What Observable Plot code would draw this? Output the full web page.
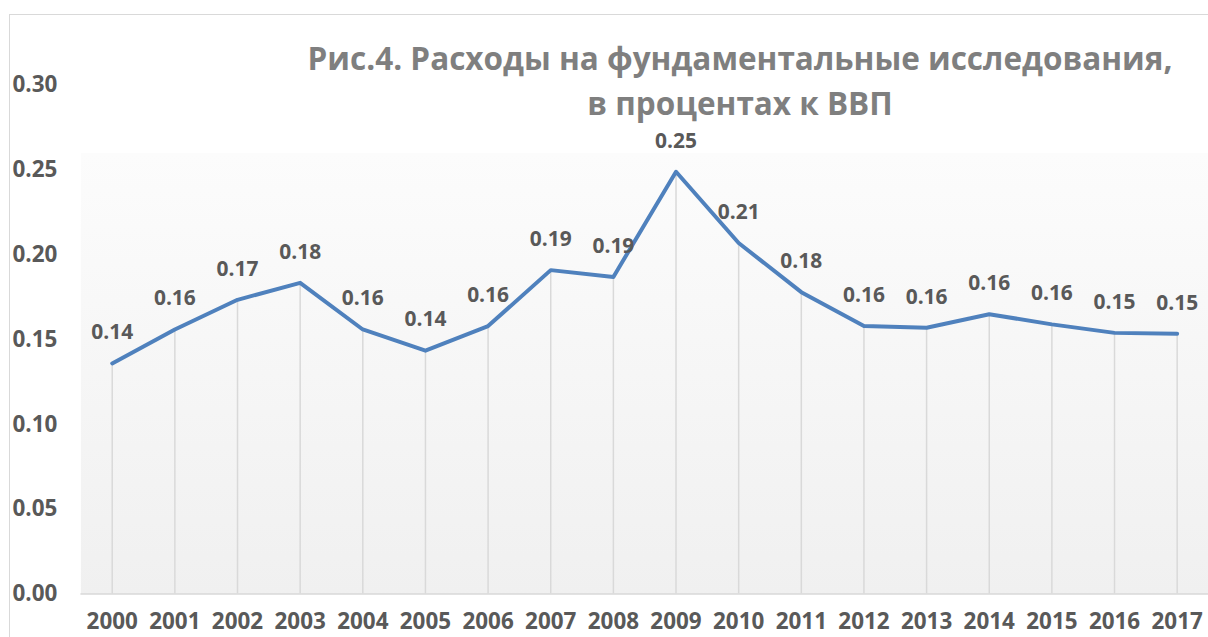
<!DOCTYPE html>
<html>
<head>
<meta charset="utf-8">
<script src="https://cdn.jsdelivr.net/npm/d3@7"></script>
<script src="https://cdn.jsdelivr.net/npm/@observablehq/plot@0.6"></script>
<style>
  html, body { margin: 0; padding: 0; background: #fff; overflow: hidden; width: 1208px; height: 637px; }
  #wrap { position: relative; width: 1208px; height: 637px; }
  #frame { position: absolute; left: 9px; top: 14px; width: 1220px; height: 700px; border-left: 1px solid #d9d9d9; border-top: 1px solid #d9d9d9; }
  #chart { position: absolute; left: 0; top: 0; }
  #title { position: absolute; left: 290px; width: 900px; top: 35px; text-align: center; font-family: "Open Sans", sans-serif; font-weight: 700; font-size: 31.5px; line-height: 45px; color: #7f7f7f; }
</style>
</head>
<body>
<div id="wrap">
  <div id="frame"></div>
  <div id="chart"></div>
  <div id="title">Рис.4. Расходы на фундаментальные исследования,<br>в процентах к ВВП</div>
</div>
<script>
const years = [2000, 2001, 2002, 2003, 2004, 2005, 2006, 2007, 2008, 2009, 2010, 2011, 2012, 2013, 2014, 2015, 2016, 2017];
const values = [0.136, 0.156, 0.1735, 0.1835, 0.156, 0.1435, 0.158, 0.191, 0.187, 0.249, 0.207, 0.178, 0.158, 0.157, 0.165, 0.159, 0.154, 0.1535];
const labels = ["0.14", "0.16", "0.17", "0.18", "0.16", "0.14", "0.16", "0.19", "0.19", "0.25", "0.21", "0.18", "0.16", "0.16", "0.16", "0.16", "0.15", "0.15"];
const yTicks = [0, 0.05, 0.10, 0.15, 0.20, 0.25, 0.30];

const data = years.map((y, i) => ({year: String(y), value: values[i], label: labels[i]}));

const defs = () => {
  const d = d3.create("svg:defs");
  const g = d.append("linearGradient").attr("id", "bgGrad").attr("x1", 0).attr("y1", 0).attr("x2", 0).attr("y2", 1);
  g.append("stop").attr("offset", "0").attr("stop-color", "#ffffff");
  g.append("stop").attr("offset", "0.133").attr("stop-color", "#ffffff");
  g.append("stop").attr("offset", "0.134").attr("stop-color", "#fcfcfc");
  g.append("stop").attr("offset", "1").attr("stop-color", "#f0f0f0");
  return d.node();
};

const font = "'Open Sans', sans-serif";

const chart = Plot.plot({
  width: 1211,
  height: 637,
  marginLeft: 80.6,
  marginRight: 0,
  marginTop: 85,
  marginBottom: 42,
  style: {fontFamily: font, fontSize: "21px", fontWeight: "700", color: "#595959", background: "transparent", overflow: "hidden"},
  x: {type: "band", domain: years.map(String), padding: 0, round: false, label: null},
  y: {domain: [0, 0.30], label: null},
  marks: [
    defs,
    Plot.frame({fill: "url(#bgGrad)", stroke: null}),
    Plot.ruleX(data, {x: "year", y1: 0, y2: "value", stroke: "#d9d9d9", strokeWidth: 1.5}),
    Plot.ruleY([0], {stroke: "#d9d9d9", strokeWidth: 1.5}),
    Plot.axisY({ticks: yTicks, tickSize: 0, tickPadding: 23.6, tickFormat: d3.format(".2f"), fill: "#595959", fontWeight: 700, fontSize: 22.5, label: null}),
    Plot.axisX({tickSize: 0, tickPadding: 19, fill: "#595959", fontWeight: 700, fontSize: 22.5, label: null}),
    Plot.line(data, {x: "year", y: "value", stroke: "#4f81bd", strokeWidth: 4, strokeLinejoin: "round", strokeLinecap: "round"}),
    Plot.text(data, {x: "year", y: "value", text: "label", dy: -31, fill: "#595959", fontWeight: 700, fontSize: 21})
  ]
});
document.getElementById("chart").appendChild(chart);
</script>
</body>
</html>
